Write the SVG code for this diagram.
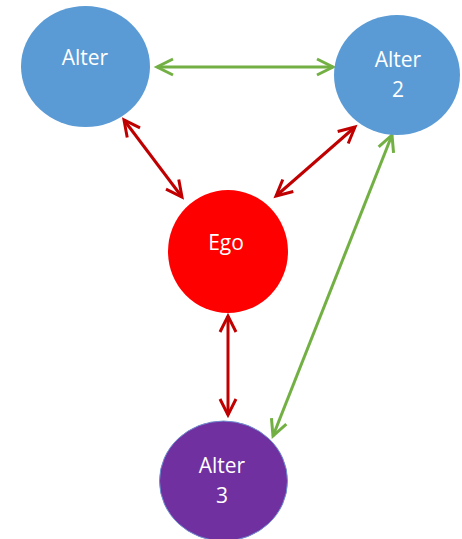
<svg xmlns="http://www.w3.org/2000/svg" width="462" height="539" viewBox="0 0 462 539">
<style>
.lbl{font-family:"Open Sans","Noto Sans","Liberation Sans",sans-serif;font-size:21px;fill:#ffffff;text-anchor:middle}
.g{stroke:#72b043;stroke-width:3;fill:none}
.r{stroke:#c00000;stroke-width:3;fill:none}
</style>
<defs>
<marker id="mg" markerUnits="userSpaceOnUse" viewBox="-20 -10 22 20" refX="0" refY="0" markerWidth="22" markerHeight="20" orient="auto-start-reverse" overflow="visible">
<path d="M-16,-8 L0,0 L-16,8" fill="none" stroke="#72b043" stroke-width="3" stroke-linejoin="miter"/>
</marker>
<marker id="mr" markerUnits="userSpaceOnUse" viewBox="-20 -10 22 20" refX="0" refY="0" markerWidth="22" markerHeight="20" orient="auto-start-reverse" overflow="visible">
<path d="M-16,-8 L0,0 L-16,8" fill="none" stroke="#c00000" stroke-width="3" stroke-linejoin="miter"/>
</marker>
</defs>
<rect width="462" height="539" fill="#ffffff"/>
<g id="connectors">
<line class="g" x1="157" y1="67" x2="333" y2="67" marker-start="url(#mg)" marker-end="url(#mg)"/>
<line class="r" x1="124" y1="120" x2="182" y2="197" marker-start="url(#mr)" marker-end="url(#mr)"/>
<line class="r" x1="355" y1="127" x2="276" y2="196" marker-start="url(#mr)" marker-end="url(#mr)"/>
<line class="r" x1="228" y1="316" x2="228" y2="415" marker-start="url(#mr)" marker-end="url(#mr)"/>
<line class="g" x1="392" y1="135" x2="273" y2="436" marker-start="url(#mg)" marker-end="url(#mg)"/>
</g>
<g id="alter1">
<ellipse cx="85.5" cy="66.5" rx="64.5" ry="60.5" fill="#5b9bd5"/>
<text class="lbl" x="85" y="65">Alter</text>
</g>
<g id="alter2">
<ellipse cx="397" cy="75" rx="63" ry="60" fill="#5b9bd5"/>
<text class="lbl" x="398" y="67">Alter</text>
<text class="lbl" x="398" y="97">2</text>
</g>
<g id="ego">
<ellipse cx="228" cy="251.5" rx="60" ry="61.5" fill="#ff0000"/>
<text class="lbl" x="226" y="250">Ego</text>
</g>
<g id="alter3">
<ellipse cx="223.5" cy="481" rx="64" ry="60" fill="#7030a0" stroke="#6f8fd0" stroke-width="1"/>
<text class="lbl" x="222" y="473">Alter</text>
<text class="lbl" x="222" y="503">3</text>
</g>
</svg>
